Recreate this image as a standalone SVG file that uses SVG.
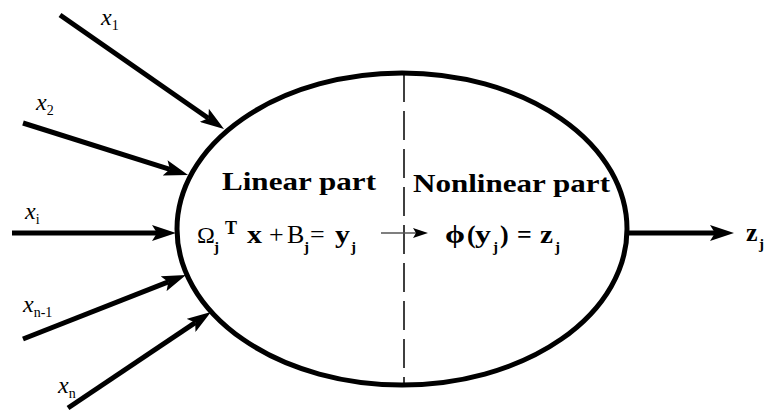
<svg xmlns="http://www.w3.org/2000/svg" width="767" height="419" viewBox="0 0 767 419">
<style>
.arr{stroke:#000;stroke-width:5;fill:none;marker-end:url(#ah)}
</style>
<defs>
<marker id="ah" markerUnits="userSpaceOnUse" markerWidth="24" markerHeight="16" refX="5" refY="8" orient="auto" viewBox="0 0 24 16">
<path d="M0,0 L24,8 L0,16 L5,8 z" fill="#000"/>
</marker>
<marker id="ahs" markerUnits="userSpaceOnUse" markerWidth="15" markerHeight="10" refX="3" refY="5" orient="auto" viewBox="0 0 15 10">
<path d="M0,0 L15,5 L0,10 L3,5 z" fill="#000"/>
</marker>
</defs>
<rect width="767" height="419" fill="#fff"/>
<g id="neuron">
<ellipse cx="402" cy="229" rx="225" ry="156" fill="none" stroke="#000" stroke-width="5"/>
<line x1="404" y1="73" x2="404" y2="385" stroke="#000" stroke-width="1.5" stroke-dasharray="29 9"/>
<text font-family="Liberation Serif" font-weight="bold" font-size="26" x="222" y="190" textLength="154" lengthAdjust="spacingAndGlyphs">Linear part</text>
<text font-family="Liberation Serif" font-weight="bold" font-size="26" x="413" y="192" textLength="197" lengthAdjust="spacingAndGlyphs">Nonlinear part</text>
<text font-family="Liberation Serif" font-size="24" x="197" y="243">Ω</text>
<text font-family="Liberation Serif" font-weight="bold" font-size="15" x="214" y="252">j</text>
<text font-family="Liberation Serif" font-weight="bold" font-size="18" x="225" y="234">T</text>
<text font-family="Liberation Serif" font-weight="bold" font-size="26" x="247" y="243" textLength="15" lengthAdjust="spacingAndGlyphs">x</text>
<text font-family="Liberation Serif" font-size="26" x="269" y="243">+</text>
<text font-family="Liberation Serif" font-size="26" x="287" y="243">B</text>
<text font-family="Liberation Serif" font-weight="bold" font-size="15" x="304" y="252">j</text>
<text font-family="Liberation Serif" font-size="26" x="310" y="243">=</text>
<text font-family="Liberation Serif" font-weight="bold" font-size="26" x="335" y="243" textLength="15" lengthAdjust="spacingAndGlyphs">y</text>
<text font-family="Liberation Serif" font-weight="bold" font-size="15" x="351" y="252">j</text>
<text font-family="Liberation Serif" font-weight="bold" font-size="26" x="445" y="243" textLength="20" lengthAdjust="spacingAndGlyphs">ϕ</text>
<text font-family="Liberation Serif" font-weight="bold" font-size="26" x="467" y="243">(</text>
<text font-family="Liberation Serif" font-weight="bold" font-size="26" x="475" y="243" textLength="16" lengthAdjust="spacingAndGlyphs">y</text>
<text font-family="Liberation Serif" font-weight="bold" font-size="15" x="493" y="252">j</text>
<text font-family="Liberation Serif" font-weight="bold" font-size="26" x="500" y="243">)</text>
<text font-family="Liberation Serif" font-weight="bold" font-size="26" x="517" y="243">=</text>
<text font-family="Liberation Serif" font-weight="bold" font-size="26" x="540" y="243" textLength="13" lengthAdjust="spacingAndGlyphs">z</text>
<text font-family="Liberation Serif" font-weight="bold" font-size="15" x="555" y="252">j</text>
</g>
<g id="connectors">
<line class="arr" x1="60" y1="15" x2="208.4" y2="118.2"/>
<line class="arr" x1="23" y1="123" x2="169.9" y2="169.3"/>
<line class="arr" x1="12" y1="233" x2="157" y2="233"/>
<line class="arr" x1="23" y1="339" x2="168.3" y2="281.9"/>
<line class="arr" x1="68" y1="408" x2="195.2" y2="322.6"/>
<line class="arr" x1="627" y1="233" x2="715" y2="233"/>
<line x1="381" y1="233" x2="416" y2="233" stroke="#555" stroke-width="1.5" marker-end="url(#ahs)"/>
</g>
<g id="inputs">
<text font-family="Liberation Serif" font-style="italic" font-size="24" x="101" y="25">x<tspan font-style="normal" font-size="14" dy="5">1</tspan></text>
<text font-family="Liberation Serif" font-style="italic" font-size="24" x="36" y="110">x<tspan font-style="normal" font-size="14" dy="5">2</tspan></text>
<text font-family="Liberation Serif" font-style="italic" font-size="24" x="25" y="219">x<tspan font-style="normal" font-size="14" dy="5">i</tspan></text>
<text font-family="Liberation Serif" font-style="italic" font-size="24" x="23" y="312">x<tspan font-style="normal" font-size="14" dy="5">n-1</tspan></text>
<text font-family="Liberation Serif" font-style="italic" font-size="24" x="58" y="393">x<tspan font-style="normal" font-size="14" dy="5">n</tspan></text>
</g>
<g id="output">
<text font-family="Liberation Serif" font-weight="bold" font-size="26" x="746" y="241">z</text>
<text font-family="Liberation Serif" font-weight="bold" font-size="15" x="759" y="249">j</text>
</g>
</svg>
